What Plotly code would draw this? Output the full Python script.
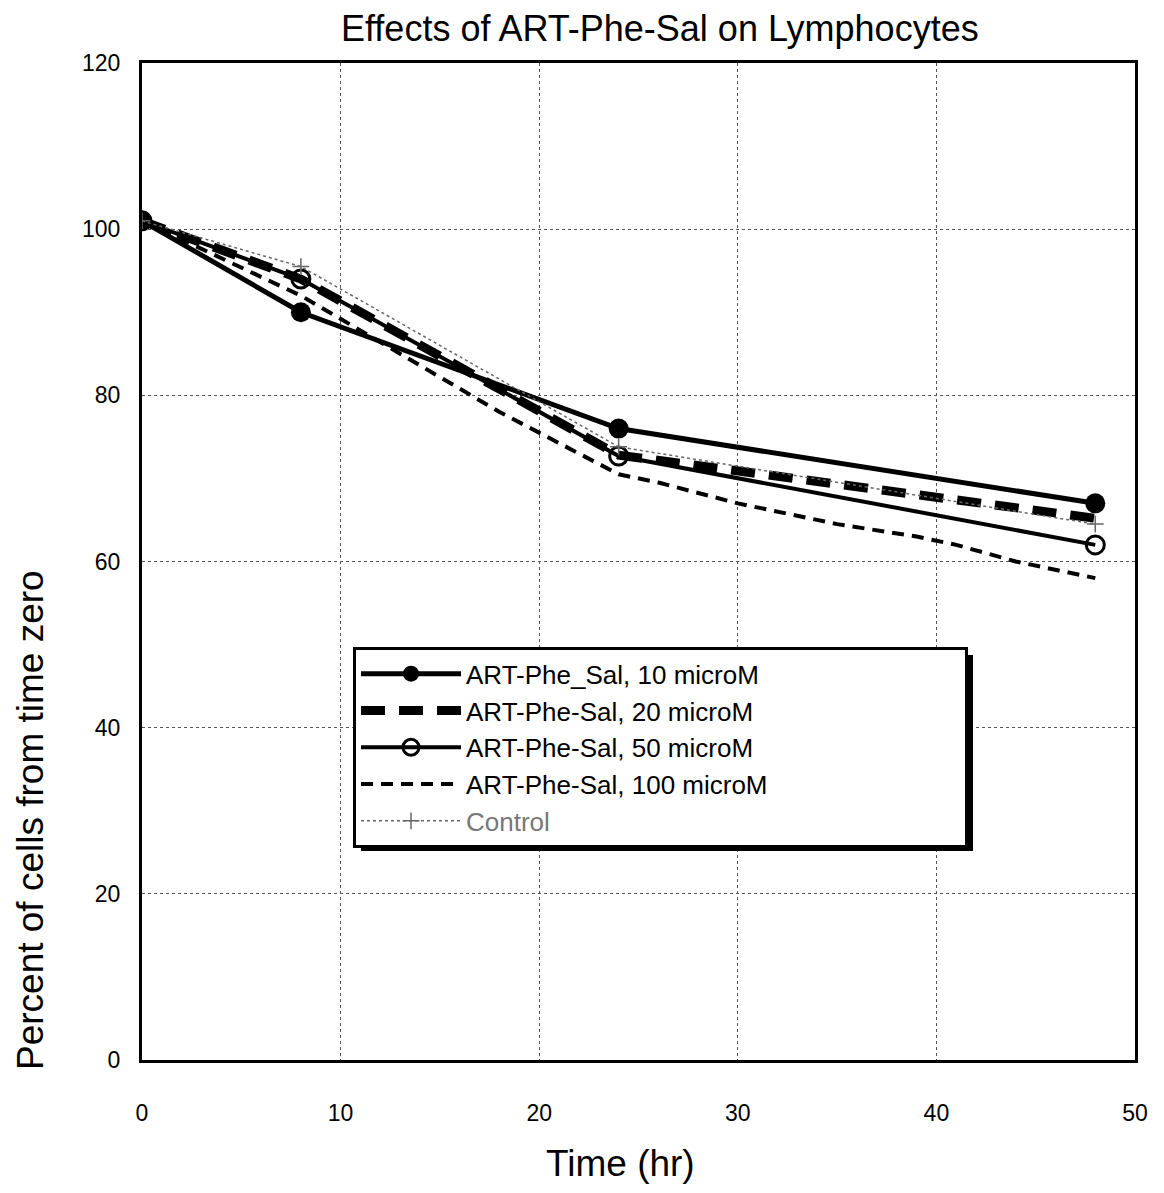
import plotly.graph_objects as go

time_hr = [0, 8, 24, 48]
s10 = [101, 90, 76, 67]
s20 = [101, 94, 72.8, 65.2]
s50 = [101, 94, 72.7, 62]
t100 = [0, 8, 18, 24, 26, 30, 35, 39, 41, 44, 48]
s100 = [101, 92, 78, 70.5, 69.5, 67, 64.5, 63, 62, 60, 58]
sctrl = [101, 95.5, 73.8, 64.5]

names = ["ART-Phe_Sal, 10 microM", "ART-Phe-Sal, 20 microM", "ART-Phe-Sal, 50 microM",
         "ART-Phe-Sal, 100 microM", "<span style='color:#777'>Control</span>"]

fig = go.Figure()
fig.add_trace(go.Scatter(x=time_hr, y=s10, name=names[0], mode="lines+markers",
                         line=dict(color="black", width=5),
                         marker=dict(symbol="circle", size=20, color="black")))
fig.add_trace(go.Scatter(x=time_hr, y=s20, name=names[1], mode="lines",
                         line=dict(color="black", width=9, dash="24px,14px")))
fig.add_trace(go.Scatter(x=time_hr, y=s50, name=names[2], mode="lines+markers",
                         line=dict(color="black", width=4),
                         marker=dict(symbol="circle-open", size=18, color="black", line=dict(width=3))))
fig.add_trace(go.Scatter(x=t100, y=s100, name=names[3], mode="lines",
                         line=dict(color="black", width=4, dash="12px,8px")))
fig.add_trace(go.Scatter(x=time_hr, y=sctrl, name=names[4], mode="lines+markers",
                         line=dict(color="#666", width=1.5, dash="dot"),
                         marker=dict(symbol="cross-thin-open", size=12, color="#666", line=dict(width=1.5, color="#666"))))

fnt = "Liberation Sans, Arial, sans-serif"
fig.update_layout(
    width=1164, height=1193,
    margin=dict(l=134, r=37, t=55, b=141),
    paper_bgcolor="white", plot_bgcolor="white",
    font=dict(family=fnt, color="black", size=22),
    title=dict(text="Effects of ART-Phe-Sal on Lymphocytes", x=0.560, xanchor="center",
               xref="container", yref="container",
               y=0.983, yanchor="middle", font=dict(size=36)),
    showlegend=True,
    legend=dict(x=0.2125, y=0.414, xanchor="left", yanchor="top",
                orientation="h", entrywidth=494, entrywidthmode="pixels",
                bgcolor="white", bordercolor="black", borderwidth=3,
                font=dict(size=26), itemwidth=100, tracegroupgap=0),
    xaxis=dict(range=[0, 50], tickvals=[0, 10, 20, 30, 40, 50], showgrid=True,
               gridcolor="#555", griddash="dot", gridwidth=1,
               showline=True, linecolor="black", linewidth=3, mirror=True,
               ticks="", tickfont=dict(size=23), ticklabelstandoff=30, zeroline=False),
    yaxis=dict(range=[0, 120], tickvals=[0, 20, 40, 60, 80, 100, 120], showgrid=True,
               gridcolor="#555", griddash="dot", gridwidth=1,
               showline=True, linecolor="black", linewidth=3, mirror=True,
               ticks="", tickfont=dict(size=23), ticklabelstandoff=14, zeroline=False),
    annotations=[
        dict(text="Percent of cells from time zero", textangle=-90,
             x=(30 - 142) / 993, y=(1060 - 820) / 997, xref="paper", yref="paper",
             xanchor="center", yanchor="middle",
             showarrow=False, font=dict(size=37)),
        dict(text="Time (hr)", x=(620 - 142) / 993, y=(1060 - 1163) / 997,
             xref="paper", yref="paper", xanchor="center", yanchor="middle",
             showarrow=False, font=dict(size=37)),
    ],
    shapes=[dict(type="rect", xref="paper", yref="paper",
                 x0=(361 - 142) / 993, x1=(973 - 142) / 993,
                 y0=(1060 - 851) / 997, y1=(1060 - 655) / 997,
                 fillcolor="black", line=dict(width=0), layer="above")],
)
fig.write_html("out.html")
